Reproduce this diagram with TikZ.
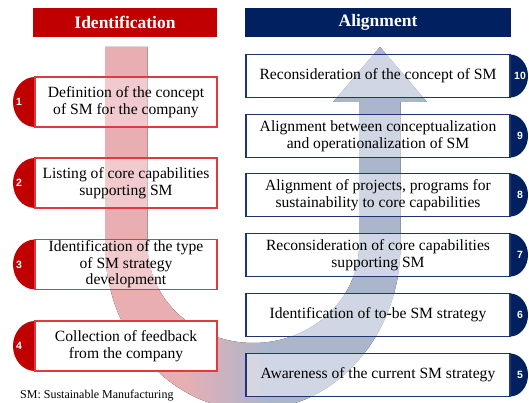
\documentclass[tikz,border=0pt]{standalone}
\usepackage{fontspec}
\setmainfont{Liberation Serif}
\newfontfamily\numfont{Liberation Sans}
\definecolor{ringpink}{HTML}{E9AEB2}
\definecolor{ringblue}{HTML}{ABB6CD}
\definecolor{hdrred}{HTML}{C00000}
\definecolor{boxred}{HTML}{E0393E}
\definecolor{hdrnavy}{HTML}{002060}
\definecolor{boxnavy}{HTML}{1F3570}
\pgfdeclarehorizontalshading{swoosh}{100bp}{color(0bp)=(ringpink); color(37bp)=(ringpink); color(50bp)=(ringblue); color(100bp)=(ringblue)}
\tikzset{
  lbox/.style={draw=boxred, line width=1.3pt, fill=white, fill opacity=0.35, text opacity=1,
    minimum width=182pt, minimum height=50pt, inner sep=0pt, align=center,
    font=\fontsize{15.6}{16.5}\selectfont},
  rbox/.style={draw=boxnavy, line width=1.3pt, fill=white, fill opacity=0.45, text opacity=1,
    minimum width=264pt, minimum height=43pt, inner sep=0pt, align=center,
    font=\fontsize{15.6}{17}\selectfont},
  hdr/.style={text=white, minimum height=29pt, inner sep=0pt,
    font=\bfseries\fontsize{17.5}{19}\selectfont},
  num/.style={text=white, inner sep=0pt, font=\numfont\bfseries\fontsize{10.5}{11}\selectfont},
}
\begin{document}
\begin{tikzpicture}[x=1pt,y=-1pt]
\useasboundingbox (0,0) rectangle (529,403);
% swoosh arrow
\begin{scope}
\clip (0,0) rectangle (529,403);
\fill[shading=swoosh] (105,47) -- (105,245)
  arc[start angle=180,end angle=0,x radius=147.75,y radius=165]
  -- (400.5,102) -- (427,102) -- (380,47) -- (333,102) -- (359,102) -- (359,245)
  arc[start angle=0,end angle=180,x radius=105.75,y radius=98]
  -- (147.5,47) -- cycle;
\end{scope}
% headers
\node[hdr, fill=hdrred, minimum width=184pt] (hid) at (125,22.5) {Identification};
\node[hdr, fill=hdrnavy, minimum width=266pt] (hal) at (378,22.5) {Alignment};
% left boxes
\foreach \n/\y in {1/102,2/183,3/264.5,4/346}{
  \fill[hdrred] (35,\y-25) -- (35,\y+25) arc[start angle=90,end angle=270,x radius=22,y radius=25] -- cycle;
}
\node[lbox] (l1) at (126,102) {Definition of the concept\\of SM for the company};
\node[lbox] (l2) at (126,183) {Listing of core capabilities\\supporting SM};
\node[lbox] (l3) at (126,264.5) {Identification of the type\\of SM strategy\\development};
\node[lbox, fill opacity=1] (l4) at (126,346) {Collection of feedback\\from the company};
\node[num] (n1) at (19,102) {1};
\node[num] (n2) at (19,183) {2};
\node[num] (n3) at (19,264.5) {3};
\node[num] (n4) at (19,346) {4};
% right boxes
\foreach \y in {76,136,195,255,315,375}{
  \fill[hdrnavy] (510,\y-21.5) arc[start angle=-90,end angle=90,x radius=18,y radius=21.5] -- cycle;
}
\node[rbox] (r10) at (378,76) {Reconsideration of the concept of SM};
\node[rbox] (r9) at (378,136) {Alignment between conceptualization\\and operationalization of SM};
\node[rbox] (r8) at (378,195) {Alignment of projects, programs for\\sustainability to core capabilities};
\node[rbox] (r7) at (378,255) {Reconsideration of core capabilities\\supporting SM};
\node[rbox] (r6) at (378,315) {Identification of to-be SM strategy};
\node[rbox] (r5) at (378,375) {Awareness of the current SM strategy};
\node[num] (n10) at (520,76) {10};
\node[num] (n9) at (520,136) {9};
\node[num] (n8) at (520,195) {8};
\node[num] (n7) at (520,255) {7};
\node[num] (n6) at (520,315) {6};
\node[num] (n5) at (520,375) {5};
% footnote
\node[anchor=west, inner sep=0pt, font=\fontsize{12}{13}\selectfont] (fn) at (20,396) {SM: Sustainable Manufacturing};
\end{tikzpicture}
\end{document}
